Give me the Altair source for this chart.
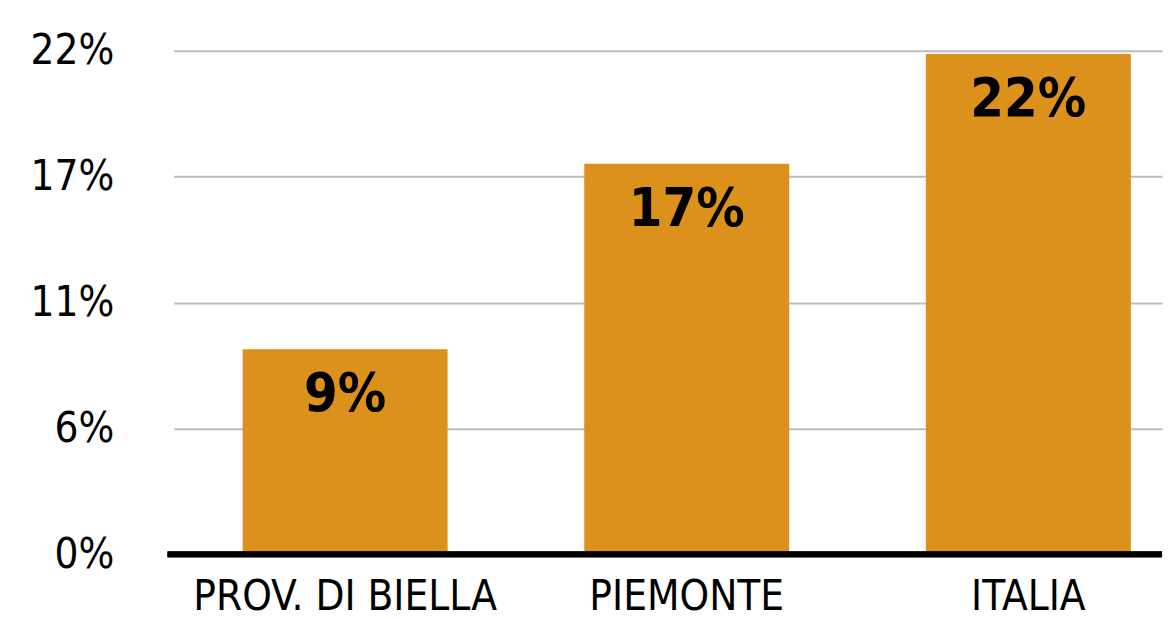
import altair as alt
import pandas as pd

categories = ["PROV. DI BIELLA", "PIEMONTE", "ITALIA"]
values = [8.96, 17.06, 21.86]
labels = ["9%", "17%", "22%"]
y_ticks = [0, 5.5, 11, 16.5, 22]

df = pd.DataFrame({"cat": categories, "val": values, "lab": labels})

FONT = "DejaVu Sans Condensed, DejaVu Sans, sans-serif"
W = 991
H = 505
BAR = "#DC911C"

x = alt.X("cat:N", sort=categories, title=None,
          scale=alt.Scale(paddingInner=0.40, paddingOuter=0.1467, align=0.689),
          axis=alt.Axis(labelAngle=0, ticks=False, domain=False, labelFontSize=42,
                        labelFont=FONT, labelColor="#000", labelPadding=22, labelLimit=0,
                        grid=False))
y = alt.Y("val:Q", title=None,
          scale=alt.Scale(domain=[0, 22], nice=False, zero=True),
          axis=alt.Axis(values=y_ticks, labelExpr="round(datum.value) + '%'",
                        ticks=False, domain=False, labelFontSize=42, labelFont=FONT,
                        labelColor="#000", labelPadding=60, minExtent=166, maxExtent=166,
                        grid=True, gridColor="#BDBDBD", gridWidth=2))

bars = alt.Chart(df).mark_bar(color=BAR).encode(x=x, y=y)
text = alt.Chart(df).mark_text(font=FONT, fontSize=54, fontWeight="bold", color="#000",
                               baseline="alphabetic", dy=62).encode(
    x=alt.X("cat:N", sort=categories), y=alt.Y("val:Q"), text="lab:N")
base = alt.Chart(df).mark_rule(color="#000", strokeWidth=6).encode(
    y=alt.datum(0), x=alt.value(-6), x2=alt.value(W))

chart = alt.layer(bars, base, text).properties(
    width=W, height=H,
    padding={"left": 0, "top": 21, "right": 0, "bottom": 0},
).configure(background="#ffffff").configure_view(stroke=None)

chart.save("out.html", embed_options={"renderer": "svg", "actions": False})
